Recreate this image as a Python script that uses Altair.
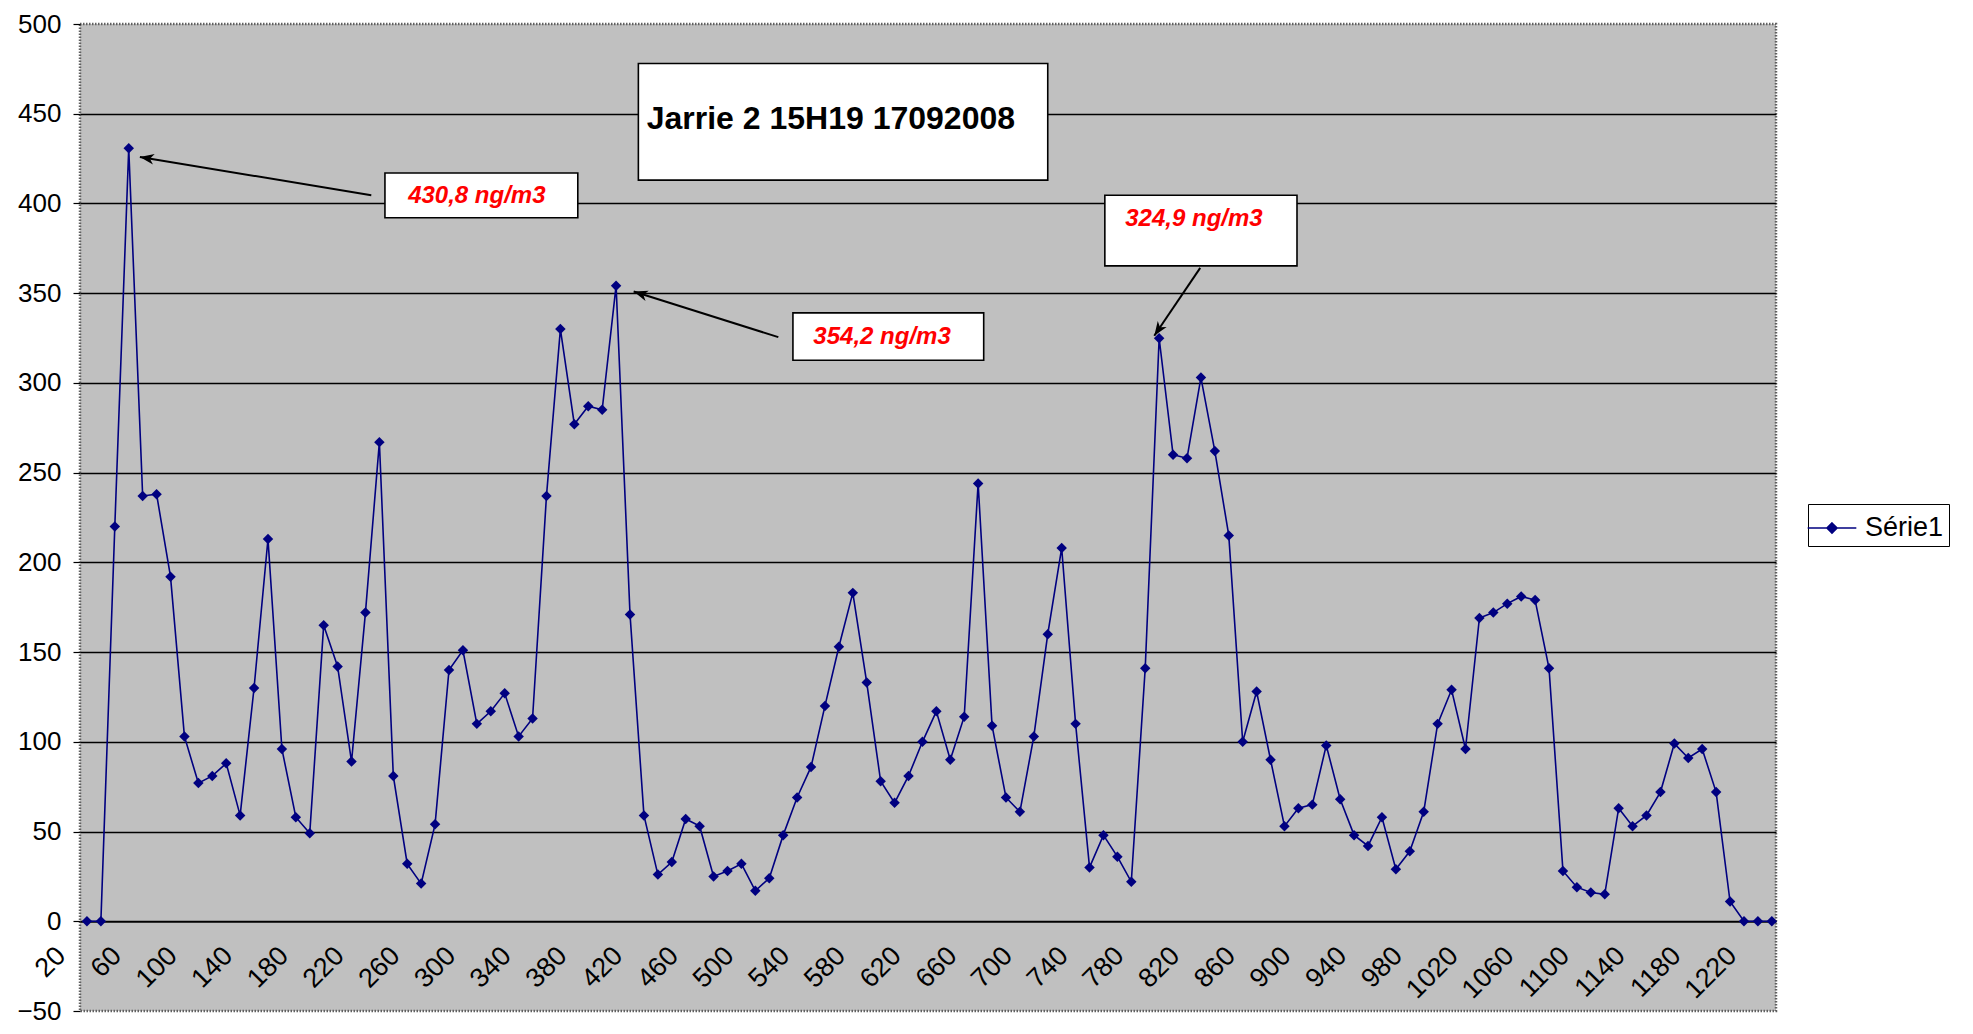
import math
import altair as alt
import pandas as pd

# ---------------- data ----------------
categories = list(range(20, 1240, 10))
values = [
    0, 0, 220, 430.8, 237, 238, 192, 103, 77, 81,
    88, 59, 130, 213, 96, 58, 49, 165, 142, 89,
    172, 267, 81, 32, 21, 54, 140, 151, 110, 117,
    127, 103, 113, 237, 330, 277, 287, 285, 354.2, 171,
    59, 26, 33, 57,
    53, 25, 28, 32, 17, 24, 48, 69, 86, 120,
    153, 183, 133, 78, 66, 81, 100, 117, 90, 114,
    244, 109, 69, 61, 103, 160, 208, 110, 30, 48,
    36, 22, 141, 324.9, 260, 258, 303, 262, 215, 100,
    128, 90, 53, 63, 65, 98, 68, 48, 42, 58,
    29, 39, 61, 110, 129, 96, 169, 172, 177, 181,
    179, 141, 28, 19, 16, 15, 63, 53, 59, 72,
    99, 91, 96, 72, 11, 0, 0, 0,
]
series_name = "Série1"
y_ticks = [-50, 0, 50, 100, 150, 200, 250, 300, 350, 400, 450, 500]
x_ticks = list(range(20, 1230, 5))

chart_title = "Jarrie 2 15H19 17092008"
# annotation boxes in data units (x from, x to, y top, y bottom)
box_x = [416, 234, 527, 751]
box_x2 = [710, 372.5, 664, 889]
box_y = [478, 417, 339, 404.6]
box_y2 = [413, 392, 312.6, 365.2]
# note texts
note_text = ["430,8 ng/m3", "354,2 ng/m3", "324,9 ng/m3"]
note_x = [300, 591, 815]
note_y = [404.3, 325.8, 391.4]
# arrows: from (ax, ay) to (ax2, ay2)
arrow_x = [224.2, 516.5, 819.5]
arrow_y = [404.6, 325.5, 364.1]
arrow_x2 = [58, 412.6, 786.5]
arrow_y2 = [425.9, 350.9, 326.3]

# ---------------- layout ----------------
W, H = 1696, 987
X_DOM = [15, 1233]
Y_DOM = [-50, 500]
FONT = "Liberation Sans"
NAVY = "#000080"

sx = W / (X_DOM[1] - X_DOM[0])
sy = H / (Y_DOM[1] - Y_DOM[0])

df = pd.DataFrame({"x": categories, "y": values, "series": series_name})
boxes = pd.DataFrame({"x": box_x, "x2": box_x2, "y": box_y, "y2": box_y2})
notes = pd.DataFrame({"x": note_x, "y": note_y, "t": note_text})
arrows = pd.DataFrame({"x": arrow_x, "y": arrow_y, "x2": arrow_x2, "y2": arrow_y2})
arrows["angle"] = [
    (math.degrees(math.atan2(-(y2 - y1) * sy, (x2 - x1) * sx)) + 360) % 360
    for x1, y1, x2, y2 in zip(arrow_x, arrow_y, arrow_x2, arrow_y2)
]
title_df = pd.DataFrame({"x": [422], "y": [447], "t": [chart_title]})

xs = alt.Scale(domain=X_DOM, nice=False, zero=False)
ys = alt.Scale(domain=Y_DOM, nice=False, zero=False)

x_axis = alt.Axis(
    values=x_ticks,
    format="d",
    labelExpr="datum.value % 40 == 20 ? datum.label : ''",
    labelAngle=-45,
    labelAlign="right",
    labelBaseline="middle",
    labelOverlap=False,
    labelFlush=False,
    labelPadding=22,
    labelOffset=-26,
    labelFontSize=27,
    labelFont=FONT,
    labelColor="black",
    tickOpacity={"condition": {"test": "datum.value % 10 == 5", "value": 1}, "value": 0},
    tickColor="black",
    tickWidth=1.5,
    tickSize=8,
    domainColor="black",
    domainWidth=2,
    offset=-50 * sy,
    grid=False,
    title=None,
    orient="bottom",
)
y_axis = alt.Axis(
    values=y_ticks,
    labelFontSize=26,
    labelFont=FONT,
    labelColor="black",
    labelPadding=12,
    tickSize=7,
    tickColor="black",
    tickWidth=1.2,
    domain=False,
    grid=True,
    gridColor="black",
    gridWidth=1.4,
    gridOpacity={"condition": {"test": "datum.value == 500 || datum.value == -50 || datum.value == 0", "value": 0}, "value": 1},
    title=None,
)


def X(field):
    return alt.X(field, scale=xs, title=None)


def Y(field):
    return alt.Y(field, scale=ys, title=None)


line = alt.Chart(df).mark_line(color=NAVY, strokeWidth=1.6).encode(
    x=alt.X("x:Q", scale=xs, axis=x_axis),
    y=alt.Y("y:Q", scale=ys, axis=y_axis),
)

legend_symbol = "M-1.35,0L1.35,0M0,-0.28L0.28,0L0,0.28L-0.28,0Z"
points = alt.Chart(df).mark_point(shape="diamond", filled=True, size=110, opacity=1).encode(
    x=X("x:Q"),
    y=Y("y:Q"),
    color=alt.Color(
        "series:N",
        scale=alt.Scale(range=[NAVY]),
        legend=alt.Legend(
            title=None,
            orient="none",
            legendX=1728,
            legendY=480,
            fillColor="white",
            strokeColor="black",
            padding=5,
            symbolType=legend_symbol,
            symbolSize=1300,
            symbolStrokeWidth=1.6,
            symbolStrokeColor=NAVY,
            symbolFillColor=NAVY,
            labelFontSize=27,
            labelFont=FONT,
            labelColor="black",
            labelOffset=14,
        ),
    ),
)

rects = alt.Chart(boxes).mark_rect(fill="white", stroke="black", strokeWidth=1.6).encode(
    x=X("x:Q"),
    x2="x2:Q",
    y=Y("y:Q"),
    y2="y2:Q",
)

title_txt = alt.Chart(title_df).mark_text(
    align="left", baseline="middle", font=FONT, fontSize=32, fontWeight="bold", color="black"
).encode(
    x=X("x:Q"),
    y=Y("y:Q"),
    text="t:N",
)

note_txt = alt.Chart(notes).mark_text(
    align="center", baseline="middle", font=FONT, fontSize=24, fontWeight="bold",
    fontStyle="italic", color="#FF0000"
).encode(
    x=X("x:Q"),
    y=Y("y:Q"),
    text="t:N",
)

arrow_lines = alt.Chart(arrows).mark_rule(color="black", strokeWidth=2).encode(
    x=X("x:Q"),
    y=Y("y:Q"),
    x2="x2:Q",
    y2="y2:Q",
)

arrow_heads = alt.Chart(arrows).mark_point(
    shape="M0,0L-1,-0.38L-0.72,0L-1,0.38Z", filled=True, color="black", size=800, opacity=1
).encode(
    x=X("x2:Q"),
    y=Y("y2:Q"),
    angle=alt.Angle("angle:Q", scale=None),
)

chart = alt.layer(
    line, points, rects, title_txt, note_txt, arrow_lines, arrow_heads
).properties(
    width=W,
    height=H,
    padding={"left": 72, "top": 16, "right": 185, "bottom": 13},
    autosize=alt.AutoSizeParams(type="none"),
    background="white",
).configure_view(
    fill="#C0C0C0",
    stroke="#606060",
    strokeWidth=2.5,
    strokeDash=[1.5, 1.5],
)

chart.save("out.html", embed_options={"renderer": "svg", "actions": False})
